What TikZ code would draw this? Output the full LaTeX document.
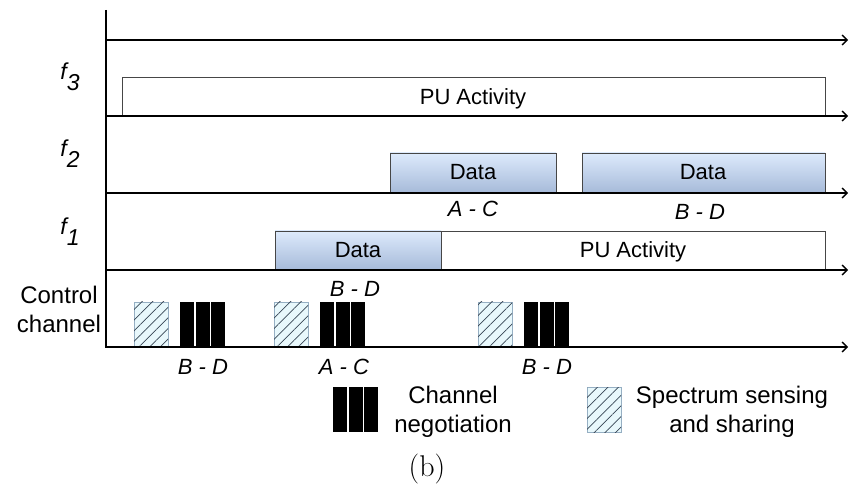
\documentclass[tikz,border=0pt]{standalone}
\usepackage{fontspec}
\newfontfamily\arialfont{Liberation Sans}
\usetikzlibrary{arrows.meta,patterns.meta}
\definecolor{datahaut}{RGB}{221,234,252}
\definecolor{databas}{RGB}{166,186,217}
\definecolor{hachfond}{RGB}{232,248,252}
\definecolor{hachtrait}{RGB}{55,70,85}
\definecolor{hachbord}{RGB}{150,175,195}
\definecolor{bord}{RGB}{70,70,70}

\begin{document}
\begin{tikzpicture}[x=1pt,y=-1pt]
  \useasboundingbox (0,0) rectangle (849,486);

  % Styles
  \tikzstyle{axe} = [-{Straight Barb[length=5pt,width=10pt]}, line width=1.3pt]
  \tikzstyle{boitepu} = [draw=bord, line width=0.8pt, fill=white]
  \tikzstyle{boitedata} = [draw=bord, line width=0.8pt, top color=datahaut, bottom color=databas]
  \tikzstyle{hach} = [draw=hachbord, line width=0.6pt, fill=hachfond,
    postaction={pattern={Lines[angle=45,distance=7.5pt,line width=0.7pt]}, pattern color=hachtrait}]
  \tikzstyle{nego} = [fill=black]
  \tikzstyle{txt} = [font=\arialfont\fontsize{22}{26}\selectfont, inner sep=0pt, anchor=base]
  \tikzstyle{paire} = [font=\arialfont\itshape\fontsize{22}{26}\selectfont, inner sep=0pt, anchor=base]
  \tikzstyle{freq} = [font=\arialfont\itshape\fontsize{23}{26}\selectfont, inner sep=0pt, anchor=base]
  \tikzstyle{legende} = [font=\arialfont\fontsize{24}{29}\selectfont, align=center, inner sep=0pt, anchor=base]

  % Boites f3, f2, f1
  \draw[boitepu] (122,77) rectangle (825,116);
  \draw[boitedata] (390,153) rectangle (556,193);
  \draw[boitedata] (582,153) rectangle (825,193);
  \draw[boitedata] (275,231) rectangle (441,270);
  \draw[boitepu] (441,231) rectangle (825,270);

  \draw (473,105) node[txt] (pu3) {PU Activity};
  \draw (473,180) node[txt] (data2a) {Data};
  \draw (703,180) node[txt] (data2b) {Data};
  \draw (358,258) node[txt] (data1) {Data};
  \draw (633,258) node[txt] (pu1) {PU Activity};

  % Canal de controle
  \foreach \x in {180,320,524} {
    \draw[hach] (\x-46,302) rectangle (\x-12,347);
    \foreach \i in {0,1,2}
      \fill[nego] (\x+15.5*\i,302) rectangle (\x+15.5*\i+14,347);
  }

  % Axes
  \draw[line width=1.3pt] (106,10) -- (106,348);
  \foreach \y in {40,116,193,270,347}
    \draw[axe] (106,\y) -- (848,\y);

  % Etiquettes
  \draw (70,80) node[freq] (f3) {f\raisebox{-0.45em}{3}};
  \draw (70,157) node[freq] (f2) {f\raisebox{-0.45em}{2}};
  \draw (70,235) node[freq] (f1) {f\raisebox{-0.45em}{1}};
  \draw (59,333) node[legende] (ctrl) {Control\\channel};

  \draw (473,217) node[paire] (ac2) {A - C};
  \draw (700,220) node[paire] (bd2) {B - D};
  \draw (355,297) node[paire] (bd1) {B - D};
  \draw (203,374) node[paire] (bdc1) {B - D};
  \draw (344,374) node[paire] (acc) {A - C};
  \draw (547,374) node[paire] (bdc2) {B - D};

  % Legende
  \foreach \i in {0,1,2}
    \fill[nego] (333+15.5*\i,387) rectangle (333+15.5*\i+14,432);
  \draw[hach] (587,387) rectangle (621,432);
  \draw (453,432) node[legende] (lnego) {Channel\\negotiation};
  \draw (732,432) node[legende] (lhach) {Spectrum sensing\\and sharing};

  \draw (427,476) node[anchor=base, inner sep=0pt, font=\fontsize{30}{36}\selectfont] (titre) {(b)};

\end{tikzpicture}
\end{document}
